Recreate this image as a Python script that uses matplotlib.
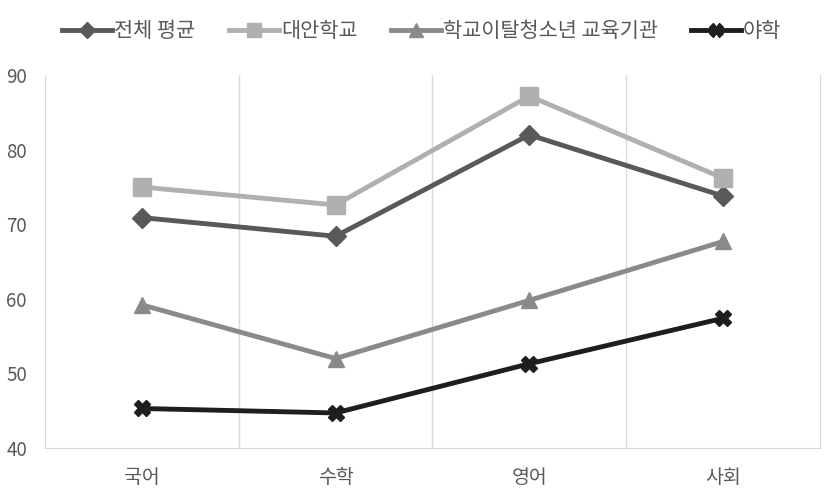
import matplotlib
matplotlib.use("Agg")
import matplotlib.pyplot as plt

plt.rcParams['font.family'] = ['Noto Sans CJK KR', 'DejaVu Sans']

subjects = ['국어', '수학', '영어', '사회']
total_avg = [70.9, 68.4, 82.0, 73.8]
alt_school = [75.0, 72.6, 87.2, 76.2]
dropout_inst = [59.2, 52.0, 59.8, 67.7]
night_school = [45.3, 44.7, 51.3, 57.4]

series_names = ['전체 평균', '대안학교', '학교이탈청소년 교육기관', '야학']
series_vals = [total_avg, alt_school, dropout_inst, night_school]
colors = ['#595959', '#b0b0b0', '#8a8a8a', '#1e1e1e']
markers = ['D', 's', '^', 'X']
msizes = [10, 13, 12, 12]

fig = plt.figure(figsize=(8.27, 4.98), dpi=100)
ax = fig.add_axes([0.0544, 0.1004, 0.937, 0.7486])

xs = list(range(len(subjects)))
for name, vals, c, m, ms in zip(series_names, series_vals, colors, markers, msizes):
    ax.plot(xs, vals, color=c, lw=3.5, marker=m, markersize=ms, label=name,
            markeredgecolor=c)

ax.set_xlim(-0.5, len(subjects) - 0.5)
ax.set_ylim(40, 90)
ax.set_yticks(range(40, 91, 10))
ax.set_xticks(xs)
ax.set_xticklabels(subjects)
ax.set_xticks([0.5, 1.5, 2.5], minor=True)
ax.grid(axis='x', which='minor', color='#d9d9d9', lw=1)
ax.tick_params(axis='both', which='both', length=0, colors='#595959')
ax.tick_params(axis='x', labelsize=14, pad=14)
ax.tick_params(axis='y', labelsize=13.5, pad=13)
for s in ['left', 'right', 'bottom']:
    ax.spines[s].set_color('#d9d9d9')
ax.spines['top'].set_visible(False)

fig.legend(loc='center', bbox_to_anchor=(0.51, 0.937), ncol=4, frameon=False,
           fontsize=15, handlelength=2.4, handletextpad=0.1, columnspacing=1.6,
           labelcolor='#595959', markerscale=0.8)

fig.savefig('out.png', dpi=100)
